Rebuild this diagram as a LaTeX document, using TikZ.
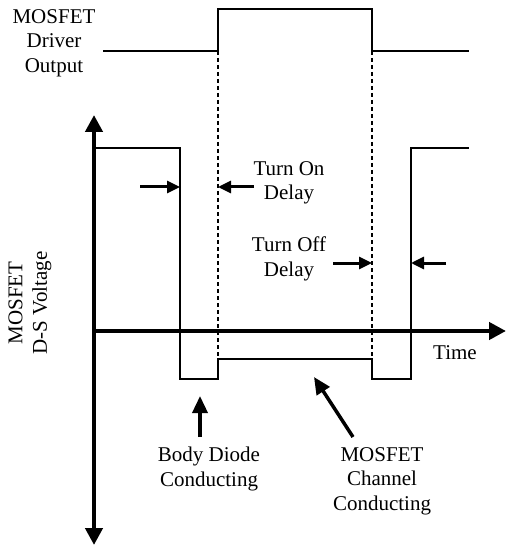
\documentclass[tikz,border=0pt]{standalone}
\usepackage{fontspec}
\setmainfont{Liberation Serif}
\usetikzlibrary{arrows.meta}
\begin{document}
\begin{tikzpicture}[x=1pt,y=-1pt,
  lbl/.style={align=center,inner sep=0pt,font=\fontsize{21}{24.5}\selectfont},
  wave/.style={line width=1.5pt},
  guide/.style={line width=1.5pt,dash pattern=on 4pt off 3pt},
  axis/.style={line width=4.5pt,-{Triangle[length=17pt,width=17pt]}},
  delay/.style={line width=3pt,-{Triangle[length=13pt,width=12pt]}},
  pointer/.style={line width=3.5pt,-{Triangle[length=17pt,width=15pt]}}]
\useasboundingbox (0,0) rectangle (506,545);
% driver output
\coordinate (d0) at (103,51);
\coordinate (d1) at (218,51);
\coordinate (d2) at (218,9);
\coordinate (d3) at (372,9);
\coordinate (d4) at (372,51);
\coordinate (d5) at (469,51);
\draw[wave] (d0) -- (d1) -- (d2) -- (d3) -- (d4) -- (d5);
% dashed guides
\coordinate (g1) at (218,359);
\coordinate (g2) at (372,359);
\draw[guide] (d1) -- (g1);
\draw[guide] (d4) -- (g2);
% axes
\coordinate (o) at (94,331);
\coordinate (yt) at (94,115);
\coordinate (yb) at (94,545);
\coordinate (xr) at (506,331);
\draw[axis] (94,333) -- (yt);
\draw[axis] (94,329) -- (yb);
\draw[axis] (92,331) -- (xr);
% D-S waveform
\coordinate (w0) at (95,148);
\coordinate (w1) at (180,148);
\coordinate (w2) at (180,379);
\coordinate (w3) at (218,379);
\coordinate (w4) at (372,379);
\coordinate (w5) at (411,379);
\coordinate (w6) at (411,148);
\coordinate (w7) at (469,148);
\draw[wave] (w0) -- (w1) -- (w2) -- (w3) -- (g1) -- (g2) -- (w4) -- (w5) -- (w6) -- (w7);
% delay arrows
\coordinate (a1s) at (140,187); \coordinate (a1e) at (180,187);
\coordinate (a2s) at (254,187); \coordinate (a2e) at (218,187);
\coordinate (a3s) at (333,263); \coordinate (a3e) at (372,263);
\coordinate (a4s) at (446,263); \coordinate (a4e) at (411,263);
\draw[delay] (a1s) -- (a1e);
\draw[delay] (a2s) -- (a2e);
\draw[delay] (a3s) -- (a3e);
\draw[delay] (a4s) -- (a4e);
% pointers
\coordinate (p1s) at (200,437); \coordinate (p1e) at (200,396);
\coordinate (p2s) at (353,437); \coordinate (p2e) at (314,377);
\draw[pointer] (p1s) -- (p1e);
\draw[pointer] (p2s) -- (p2e);
% labels
\node[lbl] (drv) at (54,43) {MOSFET\\Driver\\Output};
\node[lbl] (ton) at (289,183) {Turn On\\Delay};
\node[lbl] (toff) at (289,259) {Turn Off\\Delay};
\node[lbl] (time) at (455,353) {Time};
\node[lbl,rotate=90] (vds) at (30,303) {MOSFET\\D-S Voltage};
\node[lbl] (bd) at (209,469) {Body Diode\\Conducting};
\node[lbl] (ch) at (382,481) {MOSFET\\Channel\\Conducting};
\end{tikzpicture}
\end{document}
